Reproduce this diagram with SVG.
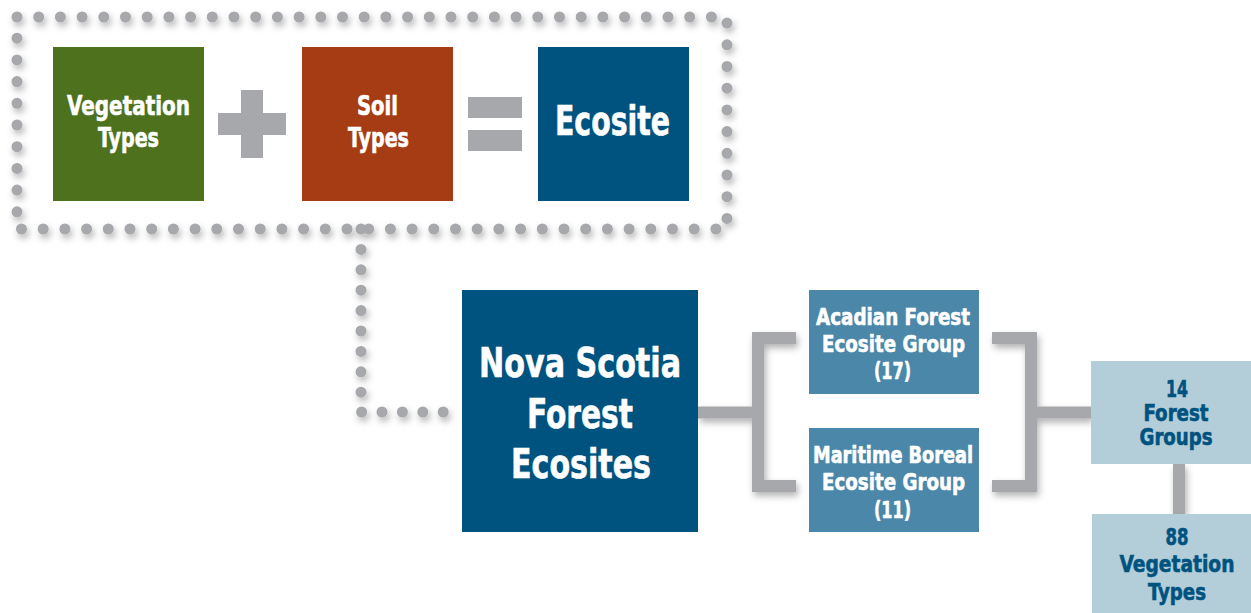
<svg xmlns="http://www.w3.org/2000/svg" width="1251" height="613" viewBox="0 0 1251 613">
<defs>
<filter id="sh" x="-20%" y="-20%" width="140%" height="140%">
<feDropShadow dx="2" dy="4" stdDeviation="3.5" flood-color="#000" flood-opacity="0.3"/>
</filter>
</defs>
<style>
.dots{fill:none;stroke:#a7a8ab;stroke-width:11;stroke-linecap:round;}
.conn{fill:none;stroke:#a7a8ab;stroke-width:12;stroke-linecap:butt;}
.sym{fill:#a7a8ab;}
text{font-family:"DejaVu Sans Condensed","DejaVu Sans","Liberation Sans",sans-serif;font-weight:bold;text-anchor:middle;stroke-width:0.6;}
.w{fill:#ffffff;stroke:#ffffff;}
.d{fill:#00537f;stroke:#00537f;}
</style>
<rect width="1251" height="613" fill="#ffffff"/>
<g id="connectors" filter="url(#sh)">
<path class="dots" d="M17,17 H727 V229 H17 Z" stroke-dasharray="0 21.7"/>
<path class="dots" d="M361,229 V412 H445" stroke-dasharray="0 20.4"/>
<path class="conn" d="M698,412.5 H758"/>
<path class="conn" d="M796,338 H758 V486 H796"/>
<path class="conn" d="M992,338 H1031 V486 H992"/>
<path class="conn" d="M1031,412.5 H1091"/>
<path class="conn" d="M1179,464 V514"/>
</g>
<g id="plus"><rect class="sym" x="218" y="113" width="68" height="22"/><rect class="sym" x="241" y="90" width="22" height="68"/></g>
<g id="equals"><rect class="sym" x="468" y="97" width="54" height="21"/><rect class="sym" x="468" y="130" width="54" height="21"/></g>
<g id="vegetation"><rect x="53" y="47" width="151" height="154" fill="#4e711e"/>
<text class="w" font-size="27" x="128.5" y="115" textLength="123" lengthAdjust="spacingAndGlyphs">Vegetation</text><text class="w" font-size="27" x="128.5" y="147" textLength="61" lengthAdjust="spacingAndGlyphs">Types</text></g>
<g id="soil"><rect x="302" y="47" width="151" height="154" fill="#a63c14"/>
<text class="w" font-size="27" x="377.5" y="115" textLength="41" lengthAdjust="spacingAndGlyphs">Soil</text><text class="w" font-size="27" x="378.5" y="147" textLength="61" lengthAdjust="spacingAndGlyphs">Types</text></g>
<g id="ecosite"><rect x="538" y="47" width="151" height="154" fill="#00537f"/>
<text class="w" font-size="41" x="612.5" y="135" textLength="115" lengthAdjust="spacingAndGlyphs">Ecosite</text></g>
<g id="nova-scotia"><rect x="462" y="290" width="236" height="242" fill="#00537f"/>
<text class="w" font-size="41" x="580" y="377" textLength="202" lengthAdjust="spacingAndGlyphs">Nova Scotia</text><text class="w" font-size="41" x="580" y="428" textLength="106" lengthAdjust="spacingAndGlyphs">Forest</text><text class="w" font-size="41" x="581" y="478" textLength="140" lengthAdjust="spacingAndGlyphs">Ecosites</text></g>
<g id="acadian"><rect x="809" y="290" width="170" height="104" fill="#4a87a8"/>
<text class="w" font-size="23.5" x="893" y="325" textLength="154" lengthAdjust="spacingAndGlyphs">Acadian Forest</text><text class="w" font-size="23.5" x="893.5" y="352" textLength="143" lengthAdjust="spacingAndGlyphs">Ecosite Group</text><text class="w" font-size="23.5" x="892.5" y="379" textLength="37" lengthAdjust="spacingAndGlyphs">(17)</text></g>
<g id="maritime"><rect x="809" y="428" width="170" height="104" fill="#4a87a8"/>
<text class="w" font-size="23.5" x="893" y="463" textLength="160" lengthAdjust="spacingAndGlyphs">Maritime Boreal</text><text class="w" font-size="23.5" x="893.5" y="490" textLength="143" lengthAdjust="spacingAndGlyphs">Ecosite Group</text><text class="w" font-size="23.5" x="892.5" y="518" textLength="37" lengthAdjust="spacingAndGlyphs">(11)</text></g>
<g id="forest-groups"><rect x="1091" y="361" width="160" height="103" fill="#b3cdd9"/>
<text class="d" font-size="23" x="1177" y="397" textLength="22" lengthAdjust="spacingAndGlyphs">14</text><text class="d" font-size="23" x="1176" y="421" textLength="65" lengthAdjust="spacingAndGlyphs">Forest</text><text class="d" font-size="23" x="1176" y="445" textLength="73" lengthAdjust="spacingAndGlyphs">Groups</text></g>
<g id="vegetation-types"><rect x="1092" y="514" width="159" height="99" fill="#b3cdd9"/>
<text class="d" font-size="23.5" x="1177" y="545" textLength="23" lengthAdjust="spacingAndGlyphs">88</text><text class="d" font-size="23.5" x="1177" y="572" textLength="115" lengthAdjust="spacingAndGlyphs">Vegetation</text><text class="d" font-size="23.5" x="1177" y="600" textLength="58" lengthAdjust="spacingAndGlyphs">Types</text></g>
</svg>
